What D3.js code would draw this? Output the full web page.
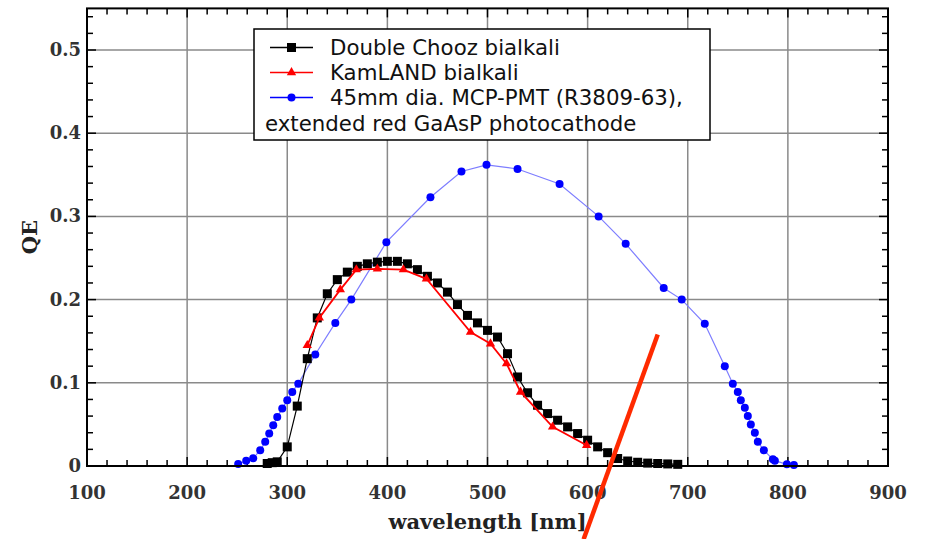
<!DOCTYPE html>
<html>
<head>
<meta charset="utf-8">
<script src="https://cdn.jsdelivr.net/npm/d3@7"></script>
<style>
  body { margin: 0; background: #fff; }
  svg { display: block; }
  .tick-label { font-family: "DejaVu Serif", serif; font-weight: bold; font-size: 18px; fill: #333; }
  .axis-title { font-family: "DejaVu Serif", serif; font-weight: bold; font-size: 21px; fill: #222; }
  .legend-text { font-family: "DejaVu Sans", sans-serif; font-size: 21.3px; fill: #111; }
</style>
</head>
<body>
<div id="container"></div>
<script>
  /* CONSTANTS AND GLOBALS */
  const width = 926,
        height = 539,
        margin = {top: 8.4, bottom: 73, left: 87, right: 38};

  // Double Chooz bialkali (black squares)
  const dcWave = [280, 285, 290, 300, 310, 320, 330, 340, 350, 360, 370, 380, 390, 400, 410, 420, 430, 440,
                  450, 460, 470, 480, 490, 500, 510, 520, 530, 540, 550, 560, 570, 580, 590, 600, 610, 620,
                  630, 640, 650, 660, 670, 680, 690];
  const dcQE   = [0.003, 0.004, 0.005, 0.023, 0.072, 0.129, 0.178, 0.207, 0.224, 0.233, 0.240, 0.243, 0.245,
                  0.246, 0.246, 0.243, 0.236, 0.228, 0.220, 0.209, 0.194, 0.181, 0.172, 0.163, 0.155, 0.135,
                  0.107, 0.088, 0.073, 0.063, 0.055, 0.047, 0.039, 0.031, 0.023, 0.016, 0.009, 0.006, 0.0045,
                  0.0035, 0.003, 0.0025, 0.002];

  // KamLAND bialkali (red triangles)
  const klWave = [320, 332, 353, 369, 390, 416, 439, 483, 503, 519, 533, 565, 599];
  const klQE   = [0.145, 0.178, 0.212, 0.236, 0.237, 0.236, 0.225, 0.161, 0.147, 0.123, 0.089, 0.047, 0.025];

  // 45mm MCP-PMT, extended red GaAsP (blue circles)
  const mcpWave = [251, 259, 266, 273, 278, 282, 286, 290, 295, 300, 305, 311, 328, 348, 364, 399, 443, 474,
                   499, 530, 572, 611, 638, 676, 694, 717, 737, 745, 750, 753, 757, 760, 763, 767, 770, 776,
                   785, 787, 799, 806];
  const mcpQE   = [0.0024, 0.0064, 0.0092, 0.019, 0.029, 0.039, 0.049, 0.059, 0.069, 0.079, 0.089, 0.099,
                   0.134, 0.172, 0.200, 0.269, 0.323, 0.354, 0.362, 0.357, 0.339, 0.300, 0.267, 0.214, 0.200,
                   0.171, 0.120, 0.099, 0.089, 0.079, 0.070, 0.060, 0.050, 0.040, 0.029, 0.019, 0.008, 0.0064,
                   0.002, 0.0012];

  const xTicks = [100, 200, 300, 400, 500, 600, 700, 800, 900];
  const yTicks = [0, 0.1, 0.2, 0.3, 0.4, 0.5];
  const yTickLabels = ["0", "0.1", "0.2", "0.3", "0.4", "0.5"];

  const legendLabels = ["Double Chooz bialkali", "KamLAND bialkali", "45mm dia. MCP-PMT (R3809-63),"];
  const legendExtra = "extended red GaAsP photocathode";

  // red pen stroke drawn over the figure
  const markWave = [670, 596];
  const markQE = [0.158, -0.088];

  let xScale, yScale, svg;

  const zip = (xs, ys) => xs.map((x, i) => ({x: x, y: ys[i]}));

  function init() {
    xScale = d3.scaleLinear()
      .domain([100, 900])
      .range([margin.left, width - margin.right]);

    yScale = d3.scaleLinear()
      .domain([0, 0.55])
      .range([height - margin.bottom, margin.top]);

    svg = d3.select("#container").append("svg")
      .attr("width", width)
      .attr("height", height);

    const x0 = xScale.range()[0], x1 = xScale.range()[1];
    const y0 = yScale.range()[0], y1 = yScale.range()[1];

    // grid
    const grid = svg.append("g").attr("stroke", "#8a8a8a").attr("stroke-width", 1.5);
    grid.selectAll("line.gx")
      .data(xTicks.slice(1, -1))
      .join("line")
      .attr("x1", d => xScale(d)).attr("x2", d => xScale(d))
      .attr("y1", y0).attr("y2", y1);
    grid.selectAll("line.gy")
      .data(yTicks.slice(1))
      .join("line")
      .attr("class", "gy")
      .attr("x1", x0).attr("x2", x1)
      .attr("y1", d => yScale(d)).attr("y2", d => yScale(d));

    // minor ticks, pointing inward on all four sides
    const minorX = d3.range(100, 901, 20);
    const minorY = d3.range(0, 0.551, 0.02);
    const ticks = svg.append("g").attr("stroke", "#000").attr("stroke-width", 1.5);
    ticks.selectAll("line.bx").data(minorX).join("line").attr("class", "bx")
      .attr("x1", d => xScale(d)).attr("x2", d => xScale(d))
      .attr("y1", y0).attr("y2", d => y0 - (d % 100 === 0 ? 9 : 6));
    ticks.selectAll("line.tx").data(minorX).join("line").attr("class", "tx")
      .attr("x1", d => xScale(d)).attr("x2", d => xScale(d))
      .attr("y1", y1).attr("y2", d => y1 + (d % 100 === 0 ? 9 : 6));
    ticks.selectAll("line.ly").data(minorY).join("line").attr("class", "ly")
      .attr("x1", x0).attr("x2", (d, i) => x0 + (i % 5 === 0 ? 9 : 6))
      .attr("y1", d => yScale(d)).attr("y2", d => yScale(d));
    ticks.selectAll("line.ry").data(minorY).join("line").attr("class", "ry")
      .attr("x1", x1).attr("x2", (d, i) => x1 - (i % 5 === 0 ? 9 : 6))
      .attr("y1", d => yScale(d)).attr("y2", d => yScale(d));

    // tick labels
    svg.append("g").selectAll("text")
      .data(xTicks)
      .join("text")
      .attr("class", "tick-label")
      .attr("x", d => xScale(d))
      .attr("y", y0 + 33)
      .attr("text-anchor", "middle")
      .text(d => d);
    svg.append("g").selectAll("text")
      .data(yTicks)
      .join("text")
      .attr("class", "tick-label")
      .attr("x", x0 - 6)
      .attr("y", d => yScale(d) + 6)
      .attr("text-anchor", "end")
      .text((d, i) => yTickLabels[i]);

    svg.append("text")
      .attr("class", "axis-title")
      .attr("x", (x0 + x1) / 2)
      .attr("y", 529)
      .attr("text-anchor", "middle")
      .text("wavelength [nm]");
    svg.append("text")
      .attr("class", "axis-title")
      .attr("transform", `translate(37,${yScale(0.275)}) rotate(-90)`)
      .attr("text-anchor", "middle")
      .text("QE");

    const line = d3.line().x(d => xScale(d.x)).y(d => yScale(d.y));

    // MCP-PMT series
    const mcp = zip(mcpWave, mcpQE);
    svg.append("path").datum(mcp)
      .attr("d", line).attr("fill", "none")
      .attr("stroke", "#7d7dff").attr("stroke-width", 1.2);
    svg.append("g").selectAll("circle").data(mcp).join("circle")
      .attr("cx", d => xScale(d.x)).attr("cy", d => yScale(d.y))
      .attr("r", 4).attr("fill", "#0000ff");

    // Double Chooz series
    const dc = zip(dcWave, dcQE);
    svg.append("path").datum(dc)
      .attr("d", line).attr("fill", "none")
      .attr("stroke", "#000").attr("stroke-width", 1.2);
    svg.append("g").selectAll("rect").data(dc).join("rect")
      .attr("x", d => xScale(d.x) - 4.5).attr("y", d => yScale(d.y) - 4.5)
      .attr("width", 9).attr("height", 9).attr("fill", "#000");

    // KamLAND series
    const kl = zip(klWave, klQE);
    const tri = d3.symbol().type(d3.symbolTriangle).size(38);
    svg.append("path").datum(kl)
      .attr("d", line).attr("fill", "none")
      .attr("stroke", "#ff0000").attr("stroke-width", 1.8);
    svg.append("g").selectAll("path").data(kl).join("path")
      .attr("transform", d => `translate(${xScale(d.x)},${yScale(d.y)})`)
      .attr("d", tri).attr("fill", "#ff0000");

    // frame
    svg.append("rect")
      .attr("x", x0).attr("y", y1)
      .attr("width", x1 - x0).attr("height", y0 - y1)
      .attr("fill", "none").attr("stroke", "#000").attr("stroke-width", 2);

    // legend
    const lg = svg.append("g");
    lg.append("rect")
      .attr("x", 254).attr("y", 29).attr("width", 456).attr("height", 111)
      .attr("fill", "#fff").attr("stroke", "#000").attr("stroke-width", 1.5);
    const rowY = [47.5, 72.5, 97.5];
    const rowColor = ["#000", "#ff0000", "#0000ff"];
    legendLabels.forEach((label, i) => {
      lg.append("line")
        .attr("x1", 270).attr("x2", 313).attr("y1", rowY[i]).attr("y2", rowY[i])
        .attr("stroke", rowColor[i]).attr("stroke-width", 1.5);
      if (i === 0) {
        lg.append("rect").attr("x", 287).attr("y", rowY[i] - 4.5).attr("width", 9).attr("height", 9).attr("fill", "#000");
      } else if (i === 1) {
        lg.append("path").attr("transform", `translate(291.5,${rowY[i]})`).attr("d", tri).attr("fill", "#ff0000");
      } else {
        lg.append("circle").attr("cx", 291.5).attr("cy", rowY[i]).attr("r", 4).attr("fill", "#0000ff");
      }
      lg.append("text")
        .attr("class", "legend-text")
        .attr("x", 330).attr("y", rowY[i] + 7.5)
        .text(label);
    });
    lg.append("text")
      .attr("class", "legend-text")
      .attr("x", 265).attr("y", 130.5)
      .text(legendExtra);

    // red pen stroke
    svg.append("line")
      .attr("x1", xScale(markWave[0])).attr("y1", yScale(markQE[0]))
      .attr("x2", xScale(markWave[1])).attr("y2", yScale(markQE[1]))
      .attr("stroke", "#ff2a00").attr("stroke-width", 4.5);
  }

  init();
</script>
</body>
</html>
